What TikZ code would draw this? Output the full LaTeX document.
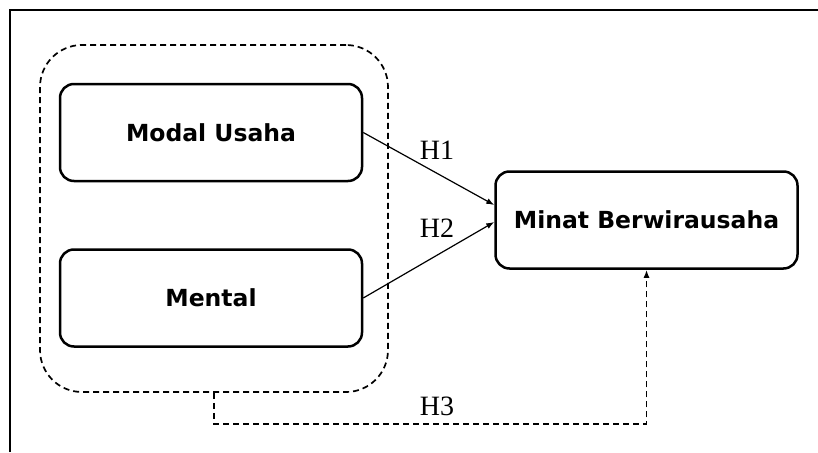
\documentclass[tikz,border=0pt]{standalone}
\usepackage{fontspec}
\setmainfont{Liberation Serif}
\newfontfamily\boxfont{DejaVu Sans}
\usetikzlibrary{arrows.meta}
\tikzset{
  varbox/.style = {draw, rounded corners = 14pt, line width = 2.5pt,
    minimum width = 302pt, minimum height = 97pt,
    font = \boxfont\bfseries\fontsize{23.5}{26}\selectfont},
  hyp/.style = {font = \fontsize{28}{30}\selectfont},
  grpline/.style = {line width = 1.7pt, dash pattern = on 6pt off 4pt}
}
\begin{document}
\begin{tikzpicture}
      [x = 1pt, y = -1pt, line width = 1.2pt]
      \useasboundingbox (0,0) rectangle (818,452);
      \fill[white] (0,0) rectangle (818,452);
      \draw[line width = 2.5pt] (10,452) -- (10,10) -- (818,10);
      \node[grpline, draw, rounded corners = 42pt, minimum width = 348pt,
        minimum height = 347pt] (grp) at (214,218.5) {};
      \node[varbox] (modal) at (211,132.5) {Modal Usaha};
      \node[varbox] (mental) at (211,298) {Mental};
      \node[varbox] (minat) at (646.5,220) {Minat Berwirausaha};
      \draw[-{Latex[length = 8pt, width = 6pt]}] (modal.east) -- ([yshift = 15pt]minat.west);
      \draw[-{Latex[length = 8pt, width = 6pt]}] (mental.east) -- ([yshift = -2pt]minat.west);
      \draw[grpline, -{Latex[length = 8pt, width = 6pt]}]
        (grp.south) -- ++(0,31) -| (minat.south);
      \node[hyp] (h1) at (437,150) {H1};
      \node[hyp] (h2) at (437,228) {H2};
      \node[hyp] (h3) at (437,406) {H3};
    \end{tikzpicture}
\end{document}
